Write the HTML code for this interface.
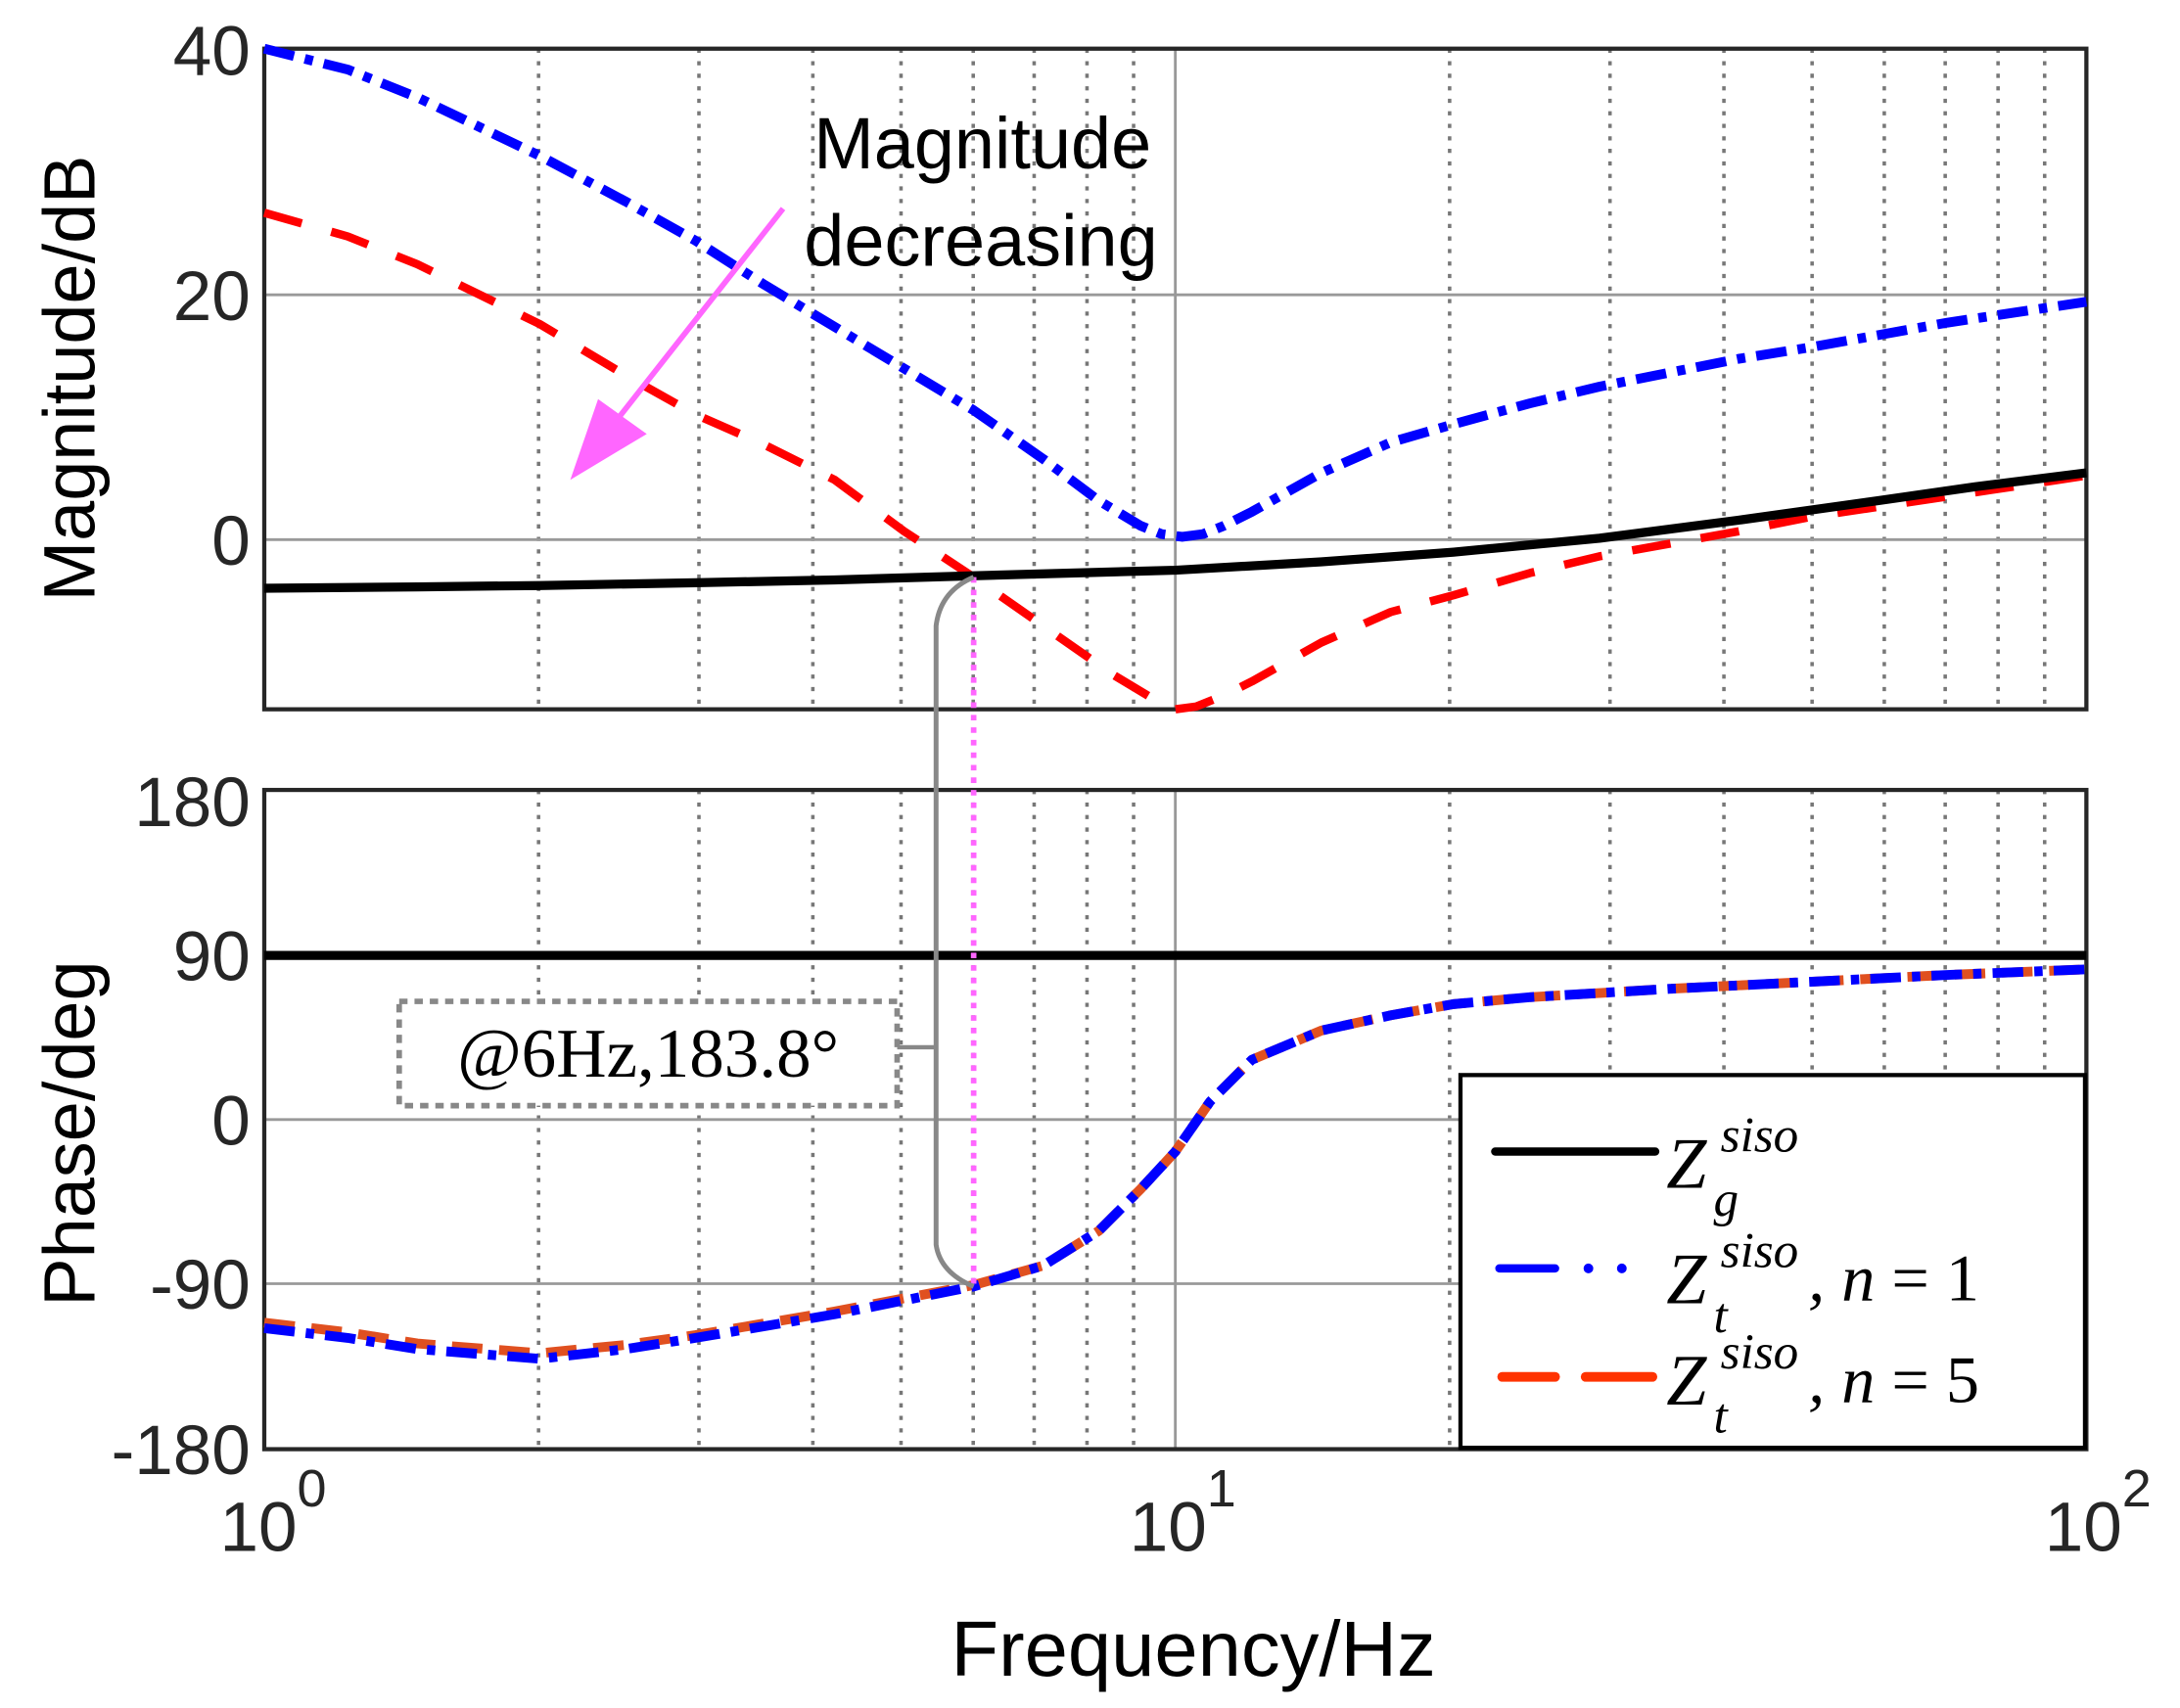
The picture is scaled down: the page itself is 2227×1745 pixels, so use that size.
<!DOCTYPE html>
<html><head><meta charset="utf-8"><style>
html,body{margin:0;padding:0;background:#fff;}
svg{display:block;}
.s{font-family:"Liberation Sans",sans-serif;}
.t{font-family:"Liberation Sans",sans-serif;font-size:50px;fill:#262626;}
.m{font-family:"Liberation Serif",serif;font-style:italic;fill:#000;}
.r{font-family:"Liberation Serif",serif;fill:#000;}
</style></head><body>
<svg width="2227" height="1745" viewBox="0 0 1567.3 1228.1" preserveAspectRatio="none" xmlns="http://www.w3.org/2000/svg">
<rect width="1568" height="1229" fill="#fff"/>
<path fill="none" stroke="#777" stroke-width="2.5" stroke-dasharray="3,6" d="
M387.2,35V510 M502.5,35V510 M584.4,35V510 M647.8,35V510 M699.7,35V510 M743.5,35V510 M781.5,35V510 M815,35V510
M1042.2,35V510 M1157.5,35V510 M1239.4,35V510 M1302.8,35V510 M1354.7,35V510 M1398.5,35V510 M1436.5,35V510 M1470,35V510
M387.2,568V1042 M502.5,568V1042 M584.4,568V1042 M647.8,568V1042 M699.7,568V1042 M743.5,568V1042 M781.5,568V1042 M815,568V1042
M1042.2,568V1042 M1157.5,568V1042 M1239.4,568V1042 M1302.8,568V1042 M1354.7,568V1042 M1398.5,568V1042 M1436.5,568V1042 M1470,568V1042"/>
<path fill="none" stroke="#999" stroke-width="2" d="M845,35V510 M845,568V1042 M190,212H1500 M190,388H1500 M190,687H1500 M190,805H1500 M190,923H1500"/>
<rect x="190" y="35" width="1310" height="475" fill="none" stroke="#262626" stroke-width="3"/>
<rect x="190" y="568" width="1310" height="474" fill="none" stroke="#262626" stroke-width="3"/>
<polyline fill="none" stroke="#e05020" stroke-width="7" stroke-dasharray="22,12" stroke-linejoin="round" points="190,951 250,958 300,966 388,973 450,967 500,960 600,943 700,924 750,910 790,885 820,855 845,828 870,792 900,762 950,741 1000,730 1045,722 1100,717 1200,711 1300,706 1400,701 1500,697"/>
<polyline fill="none" stroke="#0000ff" stroke-width="7" stroke-dasharray="22,8,6,8" stroke-linejoin="round" points="190,955 250,962 300,970 388,977 450,970 500,962 600,945 700,925 750,910 790,885 820,855 845,828 870,792 900,762 950,741 1000,730 1045,722 1100,717 1200,711 1300,706 1400,701 1500,697"/>
<line x1="190" y1="687" x2="1500" y2="687" stroke="#000" stroke-width="6.5"/>
<polyline fill="none" stroke="#ff0000" stroke-width="6" stroke-dasharray="28,22" stroke-linejoin="round" points="190,153 250,170 300,190 388,233 450,270 500,298 550,320 600,345 650,382 700,415 750,450 800,485 830,503 845,510 860,508 880,500 900,490 950,462 1000,440 1045,428 1100,412 1150,400 1250,382 1300,372 1400,357 1500,342"/>
<polyline fill="none" stroke="#0000ff" stroke-width="7" stroke-dasharray="22,8,6,8" stroke-linejoin="round" points="190,35 250,50 300,70 388,112 450,145 500,173 550,205 600,235 650,265 700,295 750,330 790,360 820,378 835,384 850,386 865,384 880,378 900,368 950,340 1000,318 1045,305 1100,290 1150,278 1250,258 1300,250 1400,232 1500,217"/>
<polyline fill="none" stroke="#000" stroke-width="6.5" stroke-linejoin="round" points="190,423 300,422 388,421 500,419 600,417 700,414 845,410 950,404 1045,397 1150,387 1250,374 1350,360 1420,350 1500,340"/>
<line x1="700" y1="415" x2="700" y2="925" stroke="#ff66ff" stroke-width="4" stroke-dasharray="4,5"/>
<path d="M700,415 Q676,425 673,450 L673,895 Q676,915 700,925" fill="none" stroke="#888" stroke-width="3.5"/>
<line x1="645" y1="753" x2="673" y2="753" stroke="#888" stroke-width="3"/>
<rect x="287" y="720" width="358" height="75" fill="#fff" stroke="#888" stroke-width="4" stroke-dasharray="6,5"/>
<text x="466" y="774" text-anchor="middle" class="r" font-size="50">@6Hz,183.8°</text>
<line x1="563" y1="150" x2="445" y2="300" stroke="#ff66ff" stroke-width="4"/>
<polygon points="410,345 430,287 465,312" fill="#ff66ff"/>
<text x="585" y="121" class="s" font-size="52" fill="#000">Magnitude</text>
<text x="578" y="191" class="s" font-size="52" fill="#000">decreasing</text>
<text x="180" y="54" text-anchor="end" class="t">40</text>
<text x="180" y="230" text-anchor="end" class="t">20</text>
<text x="180" y="406" text-anchor="end" class="t">0</text>
<text x="180" y="594" text-anchor="end" class="t">180</text>
<text x="180" y="705" text-anchor="end" class="t">90</text>
<text x="180" y="823" text-anchor="end" class="t">0</text>
<text x="180" y="941" text-anchor="end" class="t">-90</text>
<text x="180" y="1060" text-anchor="end" class="t">-180</text>
<text x="158" y="1115" class="t">10<tspan dy="-32" font-size="38">0</tspan></text>
<text x="812" y="1115" class="t">10<tspan dy="-32" font-size="38">1</tspan></text>
<text x="1470" y="1115" class="t">10<tspan dy="-32" font-size="38">2</tspan></text>
<text x="858" y="1205" text-anchor="middle" class="s" font-size="56" fill="#000">Frequency/Hz</text>
<text transform="translate(68,272) rotate(-90)" text-anchor="middle" class="s" font-size="52" fill="#000">Magnitude/dB</text>
<text transform="translate(68,815) rotate(-90)" text-anchor="middle" class="s" font-size="52" fill="#000">Phase/deg</text>
<rect x="1050" y="773" width="449" height="268" fill="#fff" stroke="#000" stroke-width="3"/>
<line x1="1075" y1="828" x2="1190" y2="828" stroke="#000" stroke-width="6" stroke-linecap="round"/>
<line x1="1078" y1="912" x2="1118" y2="912" stroke="#0000ff" stroke-width="6" stroke-linecap="round"/>
<circle cx="1142" cy="912" r="3.5" fill="#0000ff"/><circle cx="1166" cy="912" r="3.5" fill="#0000ff"/>
<line x1="1080" y1="990" x2="1118" y2="990" stroke="#ff3300" stroke-width="7" stroke-linecap="round"/>
<line x1="1140" y1="990" x2="1188" y2="990" stroke="#ff3300" stroke-width="7" stroke-linecap="round"/>
<text x="1198" y="854" class="m" font-size="52">Z</text><text x="1237" y="828" class="m" font-size="36">siso</text><text x="1232" y="874" class="m" font-size="36">g</text>
<text x="1198" y="937" class="m" font-size="52">Z</text><text x="1237" y="911" class="m" font-size="36">siso</text><text x="1232" y="958" class="m" font-size="36">t</text>
<text x="1300" y="935" class="m" font-size="48">, n <tspan font-style="normal">= 1</tspan></text>
<text x="1198" y="1010" class="m" font-size="52">Z</text><text x="1237" y="984" class="m" font-size="36">siso</text><text x="1232" y="1030" class="m" font-size="36">t</text>
<text x="1300" y="1008" class="m" font-size="48">, n <tspan font-style="normal">= 5</tspan></text>
</svg>
</body></html>
